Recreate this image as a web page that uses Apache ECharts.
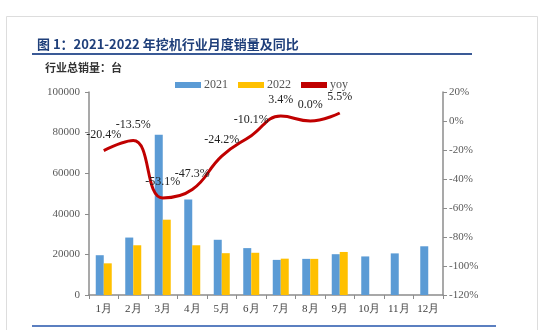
<!DOCTYPE html>
<html>
<head>
<meta charset="utf-8">
<script src="https://cdn.jsdelivr.net/npm/echarts@6/dist/echarts.min.js"></script>
<style>html,body{margin:0;padding:0;background:#fff;}#c{width:550px;height:330px;}</style>
</head>
<body>
<div id="c"></div>
<script>
var months = ['1月','2月','3月','4月','5月','6月','7月','8月','9月','10月','11月','12月'];
var sales2021 = [19600, 28300, 79000, 47000, 27200, 23100, 17300, 17800, 20100, 19000, 20500, 24000];
var sales2022 = [15600, 24500, 37100, 24500, 20600, 20800, 17900, 17800, 21200, null, null, null];
var yoy = [-20.4, -13.5, -53.1, -47.3, -24.2, -10.1, 3.4, 0.0, 5.5];
var yoyLabels = ['-20.4%','-13.5%','-53.1%','-47.3%','-24.2%','-10.1%','3.4%','0.0%','5.5%'];

var serif = '"Liberation Serif", "DejaVu Serif", serif';
var chart = echarts.init(document.getElementById('c'));
chart.setOption({
  animation: false,
  backgroundColor: '#fff',
  title: {
    text: '图 1：2021-2022 年挖机行业月度销量及同比',
    left: 32, top: 33,
    textStyle: {fontSize: 13, fontWeight: 'bold', color: '#1F3F7A', fontFamily: '"Noto Sans CJK SC", sans-serif'}
  },
  graphic: [
    {type: 'rect', shape: {x: 6.5, y: 16.5, width: 531, height: 330}, style: {fill: 'none', stroke: '#dddddd', lineWidth: 1}},
    {type: 'line', shape: {x1: 32, y1: 54, x2: 472, y2: 54}, style: {stroke: '#3A5A96', lineWidth: 2}},
    {type: 'line', shape: {x1: 32, y1: 326, x2: 496, y2: 326}, style: {stroke: '#5B7FC0', lineWidth: 2}},
    {type: 'text', left: 45, top: 62, style: {text: '行业总销量：台', fontSize: 11, fontWeight: 'bold', fill: '#333', fontFamily: '"Noto Sans CJK SC", sans-serif'}}
  ],
  legend: {
    left: 170, top: 74,
    itemWidth: 26, itemHeight: 6, itemGap: 10,
    textStyle: {fontFamily: serif, fontSize: 12, color: '#555', padding: [0, 0, 0, -2]},
    data: [
      {name: '2021', icon: 'rect'},
      {name: '2022', icon: 'rect'},
      {name: 'yoy', icon: 'rect'}
    ]
  },
  grid: {left: 89, right: 107, top: 92, bottom: 35},
  xAxis: {
    type: 'category', data: months,
    axisLine: {lineStyle: {color: '#8c8c8c', width: 1.5}},
    axisTick: {show: true, length: 4, lineStyle: {color: '#8c8c8c'}},
    axisLabel: {fontFamily: serif, fontSize: 11, color: '#404040', margin: 9}
  },
  yAxis: [
    {
      type: 'value', min: 0, max: 100000, interval: 20000,
      axisLine: {show: true, lineStyle: {color: '#8c8c8c', width: 1.5}},
      axisTick: {show: true, length: 4, lineStyle: {color: '#8c8c8c'}},
      splitLine: {show: false},
      axisLabel: {fontFamily: serif, fontSize: 11, color: '#595959', margin: 9, formatter: function (v) { return String(v); }}
    },
    {
      type: 'value', min: -120, max: 20, interval: 20, position: 'right',
      axisLine: {show: true, lineStyle: {color: '#8c8c8c', width: 1.5}},
      axisTick: {show: true, length: 4, lineStyle: {color: '#8c8c8c'}},
      splitLine: {show: false},
      axisLabel: {fontFamily: serif, fontSize: 11, color: '#595959', margin: 6, formatter: '{value}%'}
    }
  ],
  series: [
    {name: '2021', type: 'bar', data: sales2021, barWidth: 8, barGap: '0%', itemStyle: {color: '#5B9BD5'}},
    {name: '2022', type: 'bar', data: sales2022, barWidth: 8, barGap: '0%', itemStyle: {color: '#FFC000'}},
    {
      name: 'yoy', type: 'line', yAxisIndex: 1, data: yoy, smooth: 0.45,
      symbol: 'circle', symbolSize: 0.1, showSymbol: true,
      lineStyle: {color: '#C00000', width: 3},
      itemStyle: {color: '#C00000'},
      label: {
        show: true, position: 'top', distance: 10,
        fontFamily: serif, fontSize: 12, color: '#222',
        formatter: function (p) { return yoyLabels[p.dataIndex]; }
      }
    }
  ]
});
</script>
</body>
</html>
